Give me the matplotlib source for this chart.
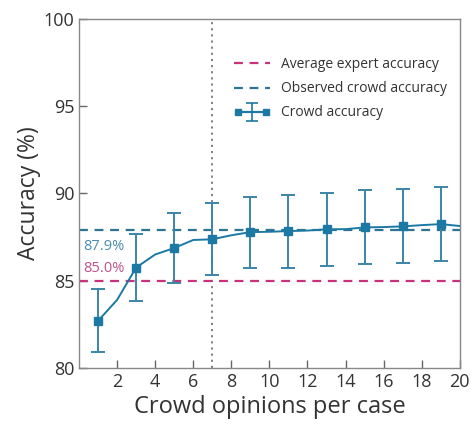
import matplotlib
matplotlib.use("Agg")
import matplotlib.pyplot as plt
from matplotlib.lines import Line2D
from matplotlib.path import Path
from matplotlib.legend_handler import HandlerLine2D, HandlerTuple

plt.rcParams["font.family"] = ["Open Sans", "DejaVu Sans"]

# crowd size (number of opinions pooled per case)
opinions = list(range(1, 21))
crowd_acc = [82.7, 83.9, 85.75, 86.5, 86.87, 87.33, 87.37, 87.6, 87.78, 87.8,
             87.84, 87.87, 87.94, 87.95, 88.05, 88.07, 88.11, 88.18, 88.24, 88.13]

# error bars only at odd crowd sizes
err_x = [1, 3, 5, 7, 9, 11, 13, 15, 17, 19]
err_lo = [80.9, 83.82, 84.88, 85.34, 85.7, 85.74, 85.84, 85.97, 86.0, 86.1]
err_hi = [84.5, 87.67, 88.86, 89.46, 89.8, 89.92, 90.04, 90.19, 90.27, 90.36]

expert_acc = 85.0
observed_crowd = 87.9
cutoff = 7

BLUE = "#1c79a3"
DARK_BLUE = "#2e7394"
MAGENTA = "#c8327c"
GREY = "#666666"
TEXT = "#333333"

fig = plt.figure(figsize=(4.76, 4.24), dpi=100)
ax = fig.add_axes([0.166, 0.132, 0.800, 0.824])

ax.axvline(cutoff, color="#777777", linestyle=(0, (1.2, 2.2)), linewidth=1.3, zorder=1)
h_exp = ax.axhline(expert_acc, color=MAGENTA, linestyle=(0, (4, 3)), linewidth=1.6, zorder=2)
h_obs = ax.axhline(observed_crowd, color=DARK_BLUE, linestyle=(0, (4, 3)), linewidth=1.6, zorder=2)

ax.plot(opinions, crowd_acc, color=BLUE, linewidth=1.4, zorder=3)

pts = [crowd_acc[opinions.index(x)] for x in err_x]
yerr = [[p - lo for p, lo in zip(pts, err_lo)], [hi - p for p, hi in zip(pts, err_hi)]]
ax.errorbar(err_x, pts, yerr=yerr, fmt="s", color=BLUE, ecolor="#3a85a8",
            markersize=6, elinewidth=1.4, capsize=5, capthick=1.4, zorder=4)

ax.text(0.2, 86.95, f"{observed_crowd:.1f}%", color="#4a8db0", fontsize=10.5, va="center")
ax.text(0.2, 85.7, f"{expert_acc:.1f}%", color="#c0508a", fontsize=10.5, va="center")

ax.set_xlim(0, 20)
ax.set_ylim(80, 100)
ax.set_xticks(range(2, 21, 2))
ax.set_yticks(range(80, 101, 5))
ax.tick_params(direction="in", length=6, width=1, colors=GREY, labelsize=13,
               labelcolor=TEXT)
for s in ax.spines.values():
    s.set_color("#888888")
    s.set_linewidth(1)

ax.set_xlabel("Crowd opinions per case", fontsize=17, color=TEXT, labelpad=3)
ax.set_ylabel("Accuracy (%)", fontsize=16.5, color=TEXT, labelpad=2)

# legend handle for crowd accuracy: line with squares at both ends plus an I-beam in the middle
ibeam = Path([(-0.35, -0.5), (0.35, -0.5), (0, -0.5), (0, 0.5), (-0.35, 0.5), (0.35, 0.5)],
             [Path.MOVETO, Path.LINETO, Path.MOVETO, Path.LINETO, Path.MOVETO, Path.LINETO])
crowd_line = Line2D([], [], color=BLUE, marker="s", markersize=5, linewidth=1.6)
crowd_bar = Line2D([], [], color=BLUE, marker=ibeam, markersize=13, linestyle="none",
                   markerfacecolor="none", markeredgewidth=1.2)

ax.legend([h_exp, h_obs, (crowd_line, crowd_bar)],
          ["Average expert accuracy", "Observed crowd accuracy", "Crowd accuracy"],
          handler_map={crowd_line: HandlerLine2D(numpoints=2),
                       crowd_bar: HandlerLine2D(numpoints=1),
                       tuple: HandlerTuple(ndivide=1)},
          loc="upper right", frameon=False, fontsize=10, handlelength=2.6,
          bbox_to_anchor=(1.0, 0.925), labelcolor=TEXT, labelspacing=0.65)

fig.savefig("out.png", dpi=100)
